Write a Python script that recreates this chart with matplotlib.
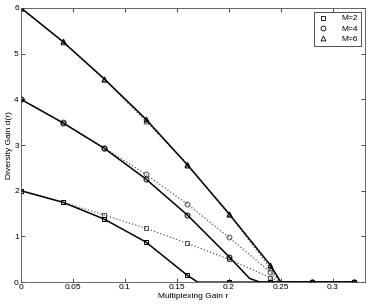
import matplotlib.pyplot as plt
import numpy as np

plt.rcParams['font.family'] = ['Liberation Sans', 'DejaVu Sans']

# marker grid for multiplexing gain r
r_marks = [0, 0.04, 0.08, 0.12, 0.16, 0.2, 0.24, 0.28, 0.32]

# solid curves, intercept points included
r_m2 = [0, 0.04, 0.08, 0.12, 0.16, 0.17, 0.2, 0.24, 0.28, 0.32]
d_m2 = [2.0, 1.75, 1.38, 0.88, 0.15, 0.0, 0.0, 0.0, 0.0, 0.0]
r_m4 = [0, 0.04, 0.08, 0.12, 0.16, 0.2, 0.22, 0.23, 0.24, 0.28, 0.32]
d_m4 = [4.0, 3.49, 2.93, 2.26, 1.47, 0.56, 0.08, 0.0, 0.0, 0.0, 0.0]
r_m6 = [0, 0.04, 0.08, 0.12, 0.16, 0.2, 0.24, 0.25, 0.28, 0.32]
d_m6 = [6.0, 5.27, 4.45, 3.57, 2.57, 1.5, 0.37, 0.0, 0.0, 0.0]

# dotted curves, with the point where each one meets zero
r_dot = [0, 0.04, 0.08, 0.12, 0.16, 0.2, 0.24, 0.25, 0.28, 0.32]
dot_m2 = [2.0, 1.75, 1.47, 1.18, 0.85, 0.5, 0.1, 0.0, 0.0, 0.0]
dot_m4 = [4.0, 3.5, 2.94, 2.36, 1.71, 0.98, 0.22, 0.0, 0.0, 0.0]
dot_m6 = [6.0, 5.26, 4.44, 3.53, 2.58, 1.49, 0.3, 0.0, 0.0, 0.0]

labels = ['M=2', 'M=4', 'M=6']
markers = ['s', 'o', '^']


def mark_idx(rs):
    return [i for i, r in enumerate(rs) if any(abs(r - m) < 1e-9 for m in r_marks)]


fig = plt.figure(figsize=(3.74, 3.05), dpi=100)
ax = fig.add_axes([0.056, 0.075, 0.92, 0.899])

solid = [(r_m2, d_m2), (r_m4, d_m4), (r_m6, d_m6)]
dotted = [dot_m2, dot_m4, dot_m6]

for (rs, ds), dd, mk, lab in zip(solid, dotted, markers, labels):
    ax.plot(r_dot, dd, ':', color='0.35', lw=0.9, marker=mk, ms=3.5,
            mfc='none', mec='0.3', mew=0.7, markevery=mark_idx(r_dot))
    ax.plot(rs, ds, '-', color='black', lw=1.1, marker=mk, ms=3.5,
            mfc='none', mec='black', mew=0.7, markevery=mark_idx(rs))
    ax.plot([], [], ls='none', marker=mk, ms=3.5, mfc='none', mec='black',
            mew=0.6, label=lab)

ax.set_xlim(0, 0.331)
ax.set_ylim(0, 6)
ax.set_xticks([0, 0.05, 0.1, 0.15, 0.2, 0.25, 0.3])
ax.set_xticklabels(['0', '0.05', '0.1', '0.15', '0.2', '0.25', '0.3'])
ax.set_yticks(range(7))
ax.tick_params(direction='in', length=3, width=0.5, labelsize=6, pad=1.5,
               top=True, right=True)
for s in ax.spines.values():
    s.set_linewidth(0.6)
    s.set_color('0.3')
ax.set_xlabel('Multiplexing Gain r', fontsize=6, labelpad=1)
ax.set_ylabel('Diversity Gain d(r)', fontsize=6, labelpad=1)

handles, labs = ax.get_legend_handles_labels()
leg = ax.legend(handles[-3:], labs[-3:], loc='upper right', fontsize=6,
                fancybox=False, edgecolor='black', borderaxespad=0.5,
                handletextpad=1.5, labelspacing=0.3, handlelength=1.5,
                borderpad=0.3)
leg.get_frame().set_linewidth(0.6)

fig.savefig('out.png', dpi=100)
